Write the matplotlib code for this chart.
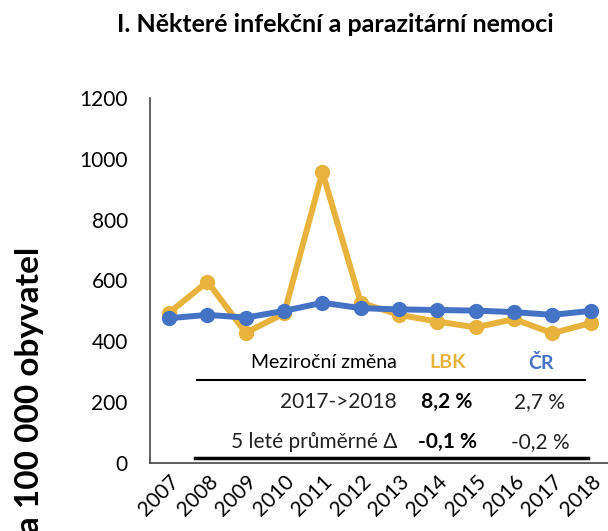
import matplotlib
matplotlib.use("Agg")
from matplotlib import pyplot as plt
from matplotlib.lines import Line2D

years = ["2007", "2008", "2009", "2010", "2011", "2012",
         "2013", "2014", "2015", "2016", "2017", "2018"]
lbk = [494, 596, 428, 492, 956, 527, 487, 465, 446, 473, 427, 460]
cr = [476, 487, 478, 500, 527, 509, 505, 503, 501, 496, 487, 500]

row_labels = ["2017->2018", "5 leté průměrné \u0394"]
lbk_change = ["8,2 %", "-0,1 %"]
cr_change = ["2,7 %", "-0,2 %"]

GOLD = "#E8B33C"
BLUE = "#4472C4"
W, H = 608, 531

plt.rcParams["font.family"] = ["Lato", "DejaVu Sans"]


def fx(x):
    return x / W


def fy(y):
    return 1 - y / H


def main() -> None:
    fig = plt.figure(figsize=(W / 100, H / 100), dpi=100)
    ax = fig.add_axes([fx(150), fy(463), fx(608 - 150), (463 - 98) / H])

    xs = range(len(years))
    ax.plot(xs, lbk, color=GOLD, lw=4.3, marker="o", ms=10, zorder=3)
    ax.plot(xs, cr, color=BLUE, lw=4.3, marker="o", ms=10, zorder=4)

    ax.set_xlim(-0.5, 11.45)
    ax.set_ylim(0, 1200)
    ax.set_yticks(range(0, 1201, 200))
    ax.set_xticks(list(xs))
    ax.set_xticklabels(years, rotation=45, ha="right", rotation_mode="anchor")
    ax.tick_params(axis="y", length=0, pad=16, labelsize=15)
    ax.tick_params(axis="x", length=0, pad=6, labelsize=15)
    for s in ["top", "right"]:
        ax.spines[s].set_visible(False)
    ax.spines["left"].set_color("#444444")
    ax.spines["bottom"].set_color("#444444")
    ax.spines["left"].set_linewidth(1.2)
    ax.spines["bottom"].set_linewidth(1.2)
    ax.set_clip_on(False)

    fig.text(fx(335), fy(25), "I. Některé infekční a parazitární nemoci",
             ha="center", va="center", fontsize=18, fontweight="bold")
    fig.text(fx(30), fy(247), "na 100 000 obyvatel", rotation=90,
             ha="center", va="top", fontsize=24, fontweight="bold")

    # small table inside the plot
    fig.text(fx(397), fy(363), "Meziroční změna", ha="right", va="center", fontsize=14)
    fig.text(fx(448), fy(363), "LBK", ha="center", va="center", fontsize=14,
             fontweight="bold", color=GOLD)
    fig.text(fx(541), fy(363), "ČR", ha="center", va="center", fontsize=14,
             fontweight="bold", color=BLUE)
    fig.add_artist(Line2D([fx(197), fx(585)], [fy(380), fy(380)], color="black", lw=1.5))
    for i, yy in enumerate([402, 442]):
        fig.text(fx(397), fy(yy), row_labels[i], ha="right", va="center",
                 fontsize=15, color="#222222")
        fig.text(fx(447), fy(yy), lbk_change[i], ha="center", va="center",
                 fontsize=15, fontweight="bold")
        fig.text(fx(540), fy(yy), cr_change[i], ha="center", va="center",
                 fontsize=15, color="#222222")
    fig.add_artist(Line2D([fx(195), fx(588)], [fy(458), fy(458)], color="black", lw=2.5))

    fig.savefig("out.png", dpi=100)


if __name__ == "__main__":
    main()
